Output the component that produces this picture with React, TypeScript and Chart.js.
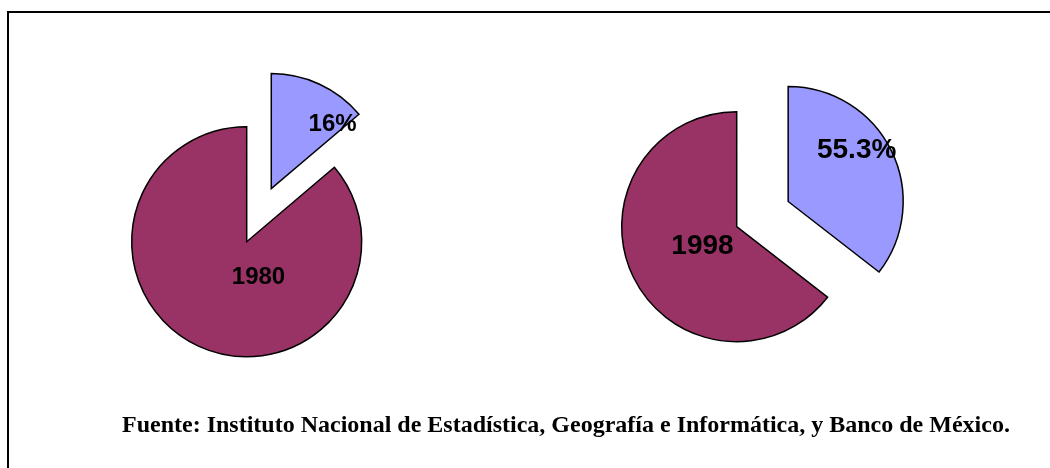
import { useEffect, useRef } from 'react';
import { Chart, registerables } from 'chart.js';

Chart.register(...registerables);

// ---- data ----
const years = ['1980', '1998'];
const shareLabels = ['16%', '55.3%'];
const shareValues = [13.8, 35.5];
const restValues = [86.2, 64.5];
const sliceNames = ['Participación', 'Resto'];
const sourceText = 'Fuente: Instituto Nacional de Estadística, Geografía e Informática, y Banco de México.';

// ---- styles ----
const PURPLE = '#993366';
const BLUE = '#9999FF';
const W = 1050;
const H = 468;

const layouts = [
  {
    padding: { left: 0, right: 556.6, top: 15.4, bottom: 0 },
    explode: 58.5,
    fontSize: 24,
    labelOffsets: [[61.3, -63.8], [11.8, 36.1]],
  },
  {
    padding: { left: 423.4, right: 0, top: 0, bottom: 14.6 },
    explode: 57.3,
    fontSize: 28,
    labelOffsets: [[68.5, -50.8], [-34.2, 19.5]],
  },
];

function makePlugin(idx: number) {
  const lay = layouts[idx];
  const texts = [shareLabels[idx], years[idx]];
  const dist = [lay.explode, 0];
  return {
    id: 'explodeLabels' + idx,
    beforeDatasetDraw(chart: any, args: any) {
      const ctx = chart.ctx;
      args.meta.data.forEach((el: any, i: number) => {
        const d = dist[i] || 0;
        const mid = (el.startAngle + el.endAngle) / 2;
        ctx.save();
        ctx.translate(Math.cos(mid) * d, Math.sin(mid) * d);
        el.draw(ctx);
        ctx.restore();
      });
      return false;
    },
    afterDatasetsDraw(chart: any) {
      const ctx = chart.ctx;
      const meta = chart.getDatasetMeta(0);
      meta.data.forEach((el: any, i: number) => {
        const d = dist[i] || 0;
        const mid = (el.startAngle + el.endAngle) / 2;
        const cx = el.x + Math.cos(mid) * d;
        const cy = el.y + Math.sin(mid) * d;
        const [dx, dy] = lay.labelOffsets[i];
        ctx.save();
        ctx.font = `bold ${lay.fontSize}px "Liberation Sans", Arial, sans-serif`;
        ctx.fillStyle = '#000';
        ctx.textAlign = 'center';
        ctx.textBaseline = 'middle';
        ctx.fillText(texts[i], cx + dx, cy + dy);
        ctx.restore();
      });
    },
  };
}

function PieCanvas({ idx }: { idx: number }) {
  const ref = useRef<HTMLCanvasElement | null>(null);
  useEffect(() => {
    if (!ref.current) return;
    const chart = new Chart(ref.current, {
      type: 'pie',
      data: {
        labels: sliceNames,
        datasets: [
          {
            data: [shareValues[idx], restValues[idx]],
            backgroundColor: [BLUE, PURPLE],
            borderColor: '#000000',
            borderWidth: 1.5,
            borderJoinStyle: 'miter',
            radius: 115,
          } as any,
        ],
      },
      options: {
        responsive: false,
        animation: false,
        devicePixelRatio: 1,
        layout: { padding: layouts[idx].padding },
        plugins: {
          legend: { display: false },
          tooltip: { enabled: false },
        },
      },
      plugins: [makePlugin(idx)],
    });
    return () => chart.destroy();
  }, [idx]);
  return (
    <canvas
      ref={ref}
      width={W}
      height={H}
      style={{ position: 'absolute', left: 0, top: 0, width: W, height: H }}
    />
  );
}

export default function App() {
  return (
    <div
      style={{
        position: 'absolute',
        left: 0,
        top: 0,
        width: W,
        height: H,
        overflow: 'hidden',
        background: '#ffffff',
      }}
    >
      <div
        style={{
          position: 'absolute',
          left: 7,
          top: 11,
          width: 1100,
          height: 520,
          borderTop: '2px solid #000',
          borderLeft: '2px solid #000',
        }}
      />
      <PieCanvas idx={0} />
      <PieCanvas idx={1} />
      <div
        style={{
          position: 'absolute',
          left: 122,
          top: 411.5,
          font: 'bold 24px "Liberation Serif", "Times New Roman", serif',
          lineHeight: '24px',
          whiteSpace: 'nowrap',
          color: '#000',
        }}
      >
        {sourceText}
      </div>
    </div>
  );
}
